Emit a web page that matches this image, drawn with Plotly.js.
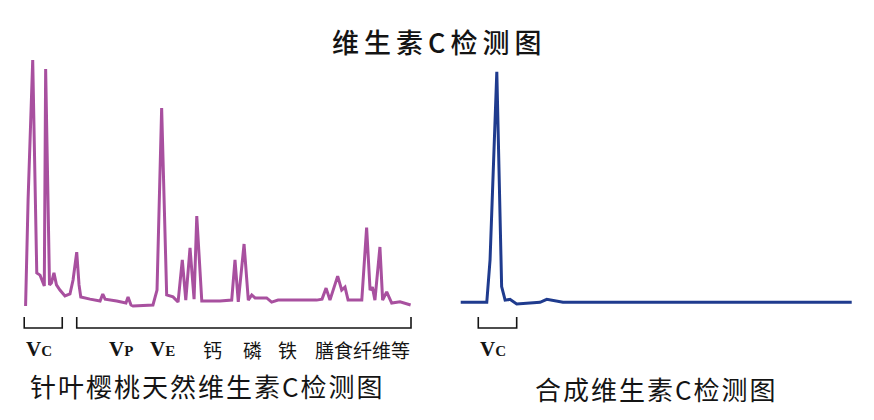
<!DOCTYPE html>
<html>
<head>
<meta charset="utf-8">
<script src="https://cdn.plot.ly/plotly-3.0.1.min.js"></script>
<style>html,body{margin:0;padding:0;background:#fff;}#chart{width:874px;height:420px;}</style>
</head>
<body>
<div id="chart"></div>
<script>
// Retention time (min) and relative signal (%)
const naturalTime = [0.03,0.16,0.40,0.61,0.78,1.00,1.07,1.27,1.37,1.50,1.63,1.81,2.07,2.33,2.49,2.68,2.80,2.89,3.37,3.89,4.03,4.15,4.75,5.23,5.34,5.49,5.60,6.63,6.84,7.08,7.34,7.67,7.93,8.15,8.33,8.55,8.76,8.90,9.16,10.10,10.71,10.88,11.05,11.35,11.57,11.75,11.92,12.52,12.78,13.11,15.11,15.39,15.60,15.80,16.20,16.41,16.58,16.74,17.45,17.70,17.88,18.00,18.13,18.39,18.53,18.74,19.00,19.43,19.98];
const naturalSignal = [-0.4,42.9,100.0,13.1,12.2,7.8,96.3,8.2,9.0,13.1,8.2,6.1,3.7,4.5,10.2,21.6,8.2,3.3,2.4,1.6,4.5,2.4,1.6,0.8,3.3,0.0,-0.4,0.0,6.1,80.4,4.1,3.3,1.2,18.4,2.0,23.3,2.4,36.3,1.6,1.6,2.0,18.4,1.3,24.9,2.0,4.1,2.9,2.9,1.2,2.0,2.0,2.4,6.9,2.0,11.8,6.1,7.3,2.0,2.0,31.6,6.1,7.3,2.0,23.7,2.0,5.4,0.8,1.3,0.0];
const syntheticTime = [0,1.35,1.52,1.87,2.12,2.30,2.55,2.90,4.11,4.46,5.30,20.26];
const syntheticSignal = [1.1,1.1,18.4,95.2,7.5,2.0,2.3,0.4,1.1,2.3,1.1,1.1];

const mainTitle = '维生素C检测图';
const naturalCaption = '针叶樱桃天然维生素C检测图';
const syntheticCaption = '合成维生素C检测图';
const componentLabels = ['钙','磷','铁','膳食纤维等'];
const componentTimes = [9.74,11.81,13.6,17.49];

const purple = '#a8509f';
const blue = '#1f3b8e';
const ink = '#141414';
const cjk = '"Noto Sans CJK SC", "Noto Sans", sans-serif';
const serif = '"Liberation Serif", "DejaVu Serif", serif';

const traces = [
  {x: naturalTime, y: naturalSignal, xaxis: 'x', yaxis: 'y', mode: 'lines',
   line: {color: purple, width: 3, shape: 'linear'}, hoverinfo: 'skip'},
  {x: syntheticTime, y: syntheticSignal, xaxis: 'x2', yaxis: 'y', mode: 'lines',
   line: {color: blue, width: 3, shape: 'linear'}, hoverinfo: 'skip'}
];

const hidden = {showgrid: false, zeroline: false, showticklabels: false, showline: false, ticks: ''};
const yBot = 0.219, yTop = 0.2452;
function bracket(xref, x0, x1) {
  return {type: 'path', xref: xref, yref: 'paper',
    path: `M ${x0},${yTop} L ${x0},${yBot} L ${x1},${yBot} L ${x1},${yTop}`,
    line: {color: ink, width: 1.6}};
}
function vLabel(xref, x, sub) {
  return {xref: xref, yref: 'paper', x: x, y: 0.169, xanchor: 'left', yanchor: 'middle',
    showarrow: false, text: 'V<span style="font-size:15px">' + sub + '</span>',
    font: {family: serif, size: 21, color: ink, weight: 'bold'}};
}
function spaced(t, px) {
  return '<span style="letter-spacing:' + px + 'px">' + t + '</span>';
}

const annotations = [
  {xref: 'paper', yref: 'paper', x: 439/874, y: 0.9, xanchor: 'center', yanchor: 'middle', showarrow: false,
   text: spaced(mainTitle, 5), font: {family: cjk, size: 27, color: ink, weight: 500}},
  {xref: 'paper', yref: 'paper', x: 207/874, y: 0.083, xanchor: 'center', yanchor: 'middle', showarrow: false,
   text: spaced(naturalCaption, 2), font: {family: cjk, size: 26, color: ink}},
  {xref: 'paper', yref: 'paper', x: 656/874, y: 0.076, xanchor: 'center', yanchor: 'middle', showarrow: false,
   text: spaced(syntheticCaption, 2), font: {family: cjk, size: 26, color: ink}},
  vLabel('x', -0.05, 'C'),
  vLabel('x', 4.25, 'P'),
  vLabel('x', 6.37, 'E'),
  vLabel('x2', 0.88, 'C')
];
componentLabels.forEach((t, i) => annotations.push({
  xref: 'x', yref: 'paper', x: componentTimes[i], y: 0.169, xanchor: 'center', yanchor: 'middle',
  showarrow: false, text: t, font: {family: cjk, size: 19, color: ink}
}));

const layout = {
  width: 874, height: 420,
  margin: {l: 0, r: 0, t: 0, b: 0},
  paper_bgcolor: '#fff', plot_bgcolor: '#fff',
  showlegend: false,
  xaxis: Object.assign({domain: [0.01756, 0.4813], range: [-0.5, 20.5]}, hidden),
  xaxis2: Object.assign({domain: [0.5161, 0.9798], range: [-0.5, 20.5], anchor: 'y'}, hidden),
  yaxis: Object.assign({domain: [0.2446, 0.8863], range: [-5, 105]}, hidden),
  shapes: [bracket('x', -0.04, 1.93), bracket('x', 2.68, 20.0), bracket('x2', 0.91, 2.9)],
  annotations: annotations
};

Plotly.newPlot('chart', traces, layout, {displayModeBar: false, staticPlot: true});
</script>
</body>
</html>
